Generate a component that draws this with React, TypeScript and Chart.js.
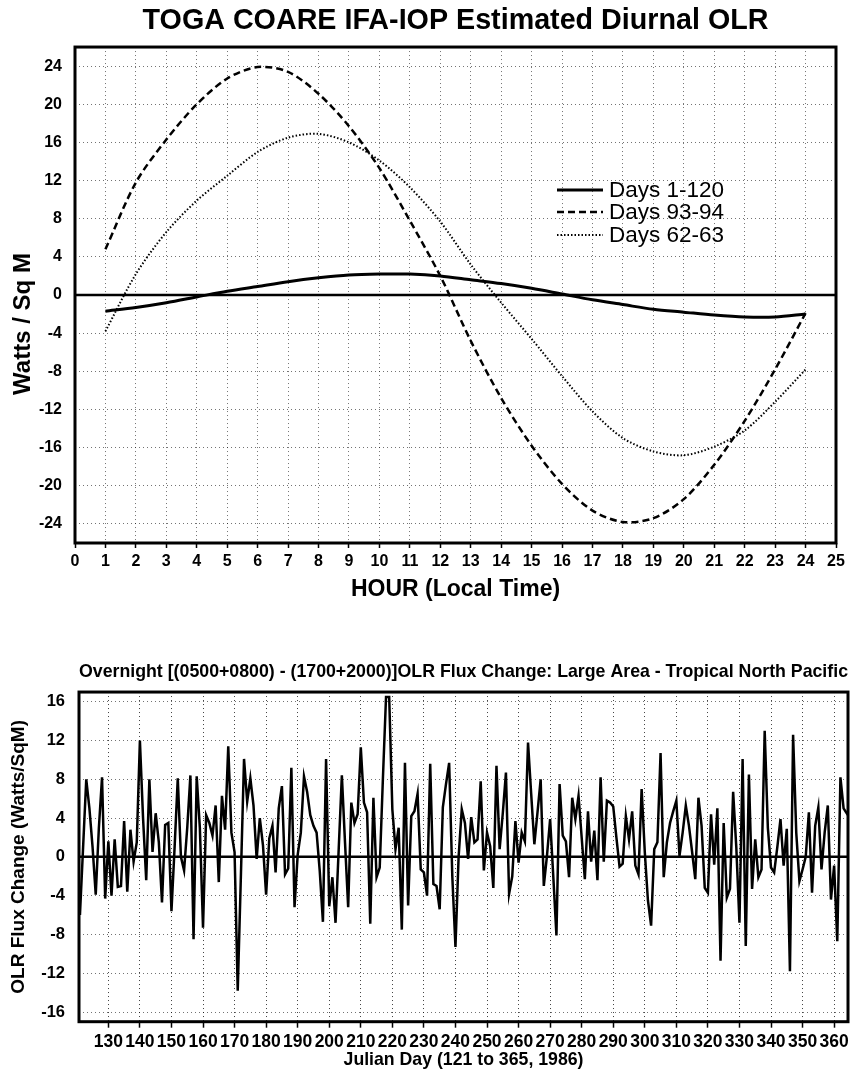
import React, { useEffect, useRef } from "react";
import { Chart, registerables } from "chart.js";

Chart.register(...registerables);

const FONT = "'Liberation Sans', Arial, Helvetica, sans-serif";

// ---------- Top chart: estimated diurnal OLR ----------
const hours = [1, 2, 3, 4, 5, 6, 7, 8, 9, 10, 11, 12, 13, 14, 15, 16, 17, 18, 19, 20, 21, 22, 23, 24];
const hourTicks = [0, 1, 2, 3, 4, 5, 6, 7, 8, 9, 10, 11, 12, 13, 14, 15, 16, 17, 18, 19, 20, 21, 22, 23, 24, 25];
const wattsTicks = [-24, -20, -16, -12, -8, -4, 0, 4, 8, 12, 16, 20, 24];
const days1to120 = [-1.7, -1.3, -0.8, -0.2, 0.4, 0.9, 1.4, 1.8, 2.1, 2.2, 2.2, 2.0, 1.6, 1.2, 0.7, 0.1, -0.5, -1.0, -1.5, -1.8, -2.1, -2.3, -2.3, -2.0];
const days93to94 = [4.8, 11.8, 16.3, 20.0, 22.7, 23.9, 23.4, 21.1, 17.7, 13.3, 7.8, 2.0, -4.8, -10.8, -15.8, -19.8, -22.6, -23.8, -23.4, -21.4, -17.8, -13.2, -7.8, -1.9];
const days62to63 = [-3.8, 2.2, 6.6, 9.9, 12.5, 15.0, 16.5, 16.9, 16.0, 14.1, 11.3, 7.7, 3.2, -0.8, -4.6, -8.5, -12.2, -15.0, -16.4, -16.8, -15.9, -14.2, -11.2, -7.8];
const seriesLabels = ["Days 1-120", "Days 93-94", "Days 62-63"];
const topYTitle = "Watts / Sq M";

// ---------- Bottom chart: overnight OLR flux change, day 121..365 (1986) ----------
const firstJulianDay = 121;
const olrMay = [-6, 1, 8, 5, 1, -3.9, 3, 8.2, -4.3, 1.6, -4.0, 1.8, -3.1, -3.0, 3.7, -3.6, 2.8, -0.5, 1.5, 12.0, 4.0, -2.4, 8.0, 0.5, 4.5, 1.5, -4.7, 3.3, 3.5, -5.6, 1.0];
const olrJun = [8.1, 0, -1.4, 3.0, 8.4, -8.5, 8.3, 3.0, -7.3, 4.3, 3.5, 2.2, 5.3, -2.6, 6.3, 2.8, 11.4, 2.5, 0.5, -13.8, -2, 10.1, 5.7, 8.1, 5.3, -0.2, 4.0, 1.2, -3.9, 1.9];
const olrJul = [3.2, -1.6, 5.0, 7.3, -1.8, -1.2, 9.2, -5.2, 0.2, 2.5, 8.3, 6.7, 4.3, 3.2, 2.5, -1.5, -6.7, 10.1, -5.1, -2.1, -6.8, 0.8, 8.4, 1.5, -5.2, 5.6, 3.5, 4.4, 11.3, 5.6, 4.6];
const olrAug = [-6.9, 6.1, -2.1, -1.1, 8, 16.5, 16.5, 4.9, 0.8, 3.0, -7.5, 9.7, -5.0, 4.2, 4.7, 6.5, -1.3, -1.6, -4.0, 9.6, -2.8, -3.0, -5.4, 5.1, 7.5, 9.7, -2, -9.3, 0, 4.9, 3.5];
const olrSep = [-0.2, 4.1, 1.5, 1.8, 7.8, -1.4, 2.5, 1.1, -3.2, 9.4, 0.8, 4.5, 8.7, -3.8, -2, 3.7, -0.6, 2.5, 1.6, 11.8, 6.5, 1.3, 4.6, 8, -3, 0.1, 3.9, -2, -8.1, 7.5];
const olrOct = [2.2, 1.6, -2.1, 6.1, 3.9, 6.3, 2, -2.3, 4.7, -0.5, 2.7, -2.4, 8.2, -0.5, 5.8, 5.6, 5.2, 2, -1, -0.7, 4.2, 1.8, 4.7, -0.9, -1.8, 7, 0.5, -4.5, -7.1, 0.8, 1.5];
const olrNov = [10.7, -2.1, 1.5, 3.5, 4.7, 5.8, 0.1, 2.5, 5.3, 3.2, 0.5, -2.3, 6.1, 3.2, -3.2, -3.7, 4.4, -0.8, 5, -10.7, 3.5, -4.2, -3.3, 6.7, 1, -6.8, 10.1, -9.2, 8.5, -3.3];
const olrDec = [1.8, -2.1, -1.3, 13, 3, -1.1, -1.6, 1, 3.9, -0.9, 2.9, -11.8, 12.6, 2.5, -2.5, -1.3, 0, 4.6, -3.7, 3.2, 5.1, -1.3, 2.5, 5.3, -4.4, -0.9, -8.7, 8.2, 5, 4.5, 4];
const julianTicks = [130, 140, 150, 160, 170, 180, 190, 200, 210, 220, 230, 240, 250, 260, 270, 280, 290, 300, 310, 320, 330, 340, 350, 360];
const fluxTicks = [-16, -12, -8, -4, 0, 4, 8, 12, 16];

Chart.defaults.font.family = FONT;
Chart.defaults.color = "#000";

const frameAndZero = {
  id: "frameAndZero",
  beforeDatasetsDraw(chart: any) {
    const { ctx, chartArea: a, scales } = chart;
    const y0 = scales.y.getPixelForValue(0);
    ctx.save();
    ctx.strokeStyle = "#000";
    ctx.lineWidth = 2.5;
    ctx.setLineDash([]);
    ctx.beginPath();
    ctx.moveTo(a.left, y0);
    ctx.lineTo(a.right, y0);
    ctx.stroke();
    ctx.restore();
  },
  afterDraw(chart: any) {
    const { ctx, chartArea: a } = chart;
    ctx.save();
    ctx.strokeStyle = "#000";
    ctx.lineWidth = 3;
    ctx.setLineDash([]);
    ctx.strokeRect(a.left, a.top, a.right - a.left, a.bottom - a.top);
    ctx.restore();
  },
};

const insideLegend = {
  id: "insideLegend",
  afterDatasetsDraw(chart: any) {
    const { ctx } = chart;
    const x0 = 557, x1 = 603, tx = 609;
    const ys = [190, 212, 235];
    chart.data.datasets.forEach((ds: any, i: number) => {
      ctx.save();
      ctx.strokeStyle = "#000";
      ctx.lineWidth = ds.borderWidth;
      ctx.setLineDash(ds.borderDash || []);
      ctx.beginPath();
      ctx.moveTo(x0, ys[i]);
      ctx.lineTo(x1, ys[i]);
      ctx.stroke();
      ctx.setLineDash([]);
      ctx.fillStyle = "#000";
      ctx.font = `22.5px ${FONT}`;
      ctx.textBaseline = "middle";
      ctx.textAlign = "left";
      ctx.fillText(ds.label, tx, ys[i] + 1);
      ctx.restore();
    });
  },
};

// y-axis title of the top chart, placed lower on the axis as in the original
const sideTitle = {
  id: "sideTitle",
  afterDraw(chart: any) {
    const { ctx } = chart;
    ctx.save();
    ctx.translate(23, 324);
    ctx.rotate(-Math.PI / 2);
    ctx.font = `bold 24px ${FONT}`;
    ctx.fillStyle = "#000";
    ctx.textAlign = "center";
    ctx.textBaseline = "middle";
    ctx.fillText(topYTitle, 0, 0);
    ctx.restore();
  },
};

const gridDots = { color: "rgba(0,0,0,0.55)", lineWidth: 1 };

function topConfig(): any {
  const toPts = (vals: number[]) => hours.map((h, i) => ({ x: h, y: vals[i] }));
  return {
    type: "line",
    data: {
      datasets: [
        { label: seriesLabels[0], data: toPts(days1to120), borderColor: "#000", borderWidth: 3, borderDash: [], pointRadius: 0, tension: 0.3, fill: false },
        { label: seriesLabels[1], data: toPts(days93to94), borderColor: "#000", borderWidth: 2.5, borderDash: [7, 4], pointRadius: 0, tension: 0.3, fill: false },
        { label: seriesLabels[2], data: toPts(days62to63), borderColor: "#000", borderWidth: 2, borderDash: [1.5, 2], pointRadius: 0, tension: 0.3, fill: false },
      ],
    },
    options: {
      responsive: false,
      animation: false,
      devicePixelRatio: 1,
      layout: { padding: { left: 0, right: 15, top: 0, bottom: 0 } },
      plugins: {
        legend: { display: false },
        tooltip: { enabled: false },
        title: {
          display: true,
          text: "TOGA COARE IFA-IOP Estimated Diurnal OLR",
          fullSize: false,
          color: "#000",
          font: { size: 28.7, weight: "bold" },
          padding: { top: 3.8, bottom: 8.8 },
        },
      },
      scales: {
        x: {
          type: "linear",
          min: 0,
          max: 25,
          afterBuildTicks: (s: any) => { s.ticks = hourTicks.map((v) => ({ value: v })); },
          afterFit: (s: any) => { s.height = 62; s.paddingLeft = 0; s.paddingRight = 0; },
          ticks: { autoSkip: false, maxRotation: 0, minRotation: 0, padding: 4, color: "#000", font: { size: 16, weight: "bold" } },
          grid: { ...gridDots, drawTicks: true, tickLength: 5, tickColor: "#000", tickWidth: 1.5 },
          border: { display: false, dash: [1, 3] },
          title: { display: true, text: "HOUR (Local Time)", color: "#000", font: { size: 23, weight: "bold" }, padding: { top: 0, bottom: 1.2 } },
        },
        y: {
          type: "linear",
          min: -26,
          max: 26,
          afterBuildTicks: (s: any) => { s.ticks = wattsTicks.map((v) => ({ value: v })); },
          afterFit: (s: any) => { s.width = 75; s.paddingTop = 0; s.paddingBottom = 0; },
          ticks: { padding: 8, color: "#000", font: { size: 16, weight: "bold" } },
          grid: { ...gridDots, drawTicks: true, tickLength: 5, tickColor: "rgba(0,0,0,0)" },
          border: { display: false, dash: [1, 3] },
          title: { display: false },
        },
      },
    },
    plugins: [frameAndZero, insideLegend, sideTitle],
  };
}

function bottomConfig(): any {
  const allDays = [...olrMay, ...olrJun, ...olrJul, ...olrAug, ...olrSep, ...olrOct, ...olrNov, ...olrDec];
  const pts = allDays.map((v, i) => ({ x: firstJulianDay + i, y: v }));
  return {
    type: "line",
    data: {
      datasets: [
        { label: "OLR Flux Change", data: pts, borderColor: "#000", borderWidth: 2.5, pointRadius: 0, tension: 0, fill: false },
      ],
    },
    options: {
      responsive: false,
      animation: false,
      devicePixelRatio: 1,
      layout: { padding: { left: 0, right: 3, top: 0, bottom: 0 } },
      plugins: {
        legend: { display: false },
        tooltip: { enabled: false },
        title: {
          display: true,
          text: "Overnight [(0500+0800) - (1700+2000)]OLR Flux Change: Large Area - Tropical North Pacific",
          fullSize: false,
          color: "#000",
          font: { size: 18.2, weight: "bold" },
          padding: { top: 41, bottom: 9.2 },
        },
      },
      scales: {
        x: {
          type: "linear",
          min: 120.7,
          max: 364.4,
          afterBuildTicks: (s: any) => { s.ticks = julianTicks.map((v) => ({ value: v })); },
          afterFit: (s: any) => { s.height = 52.3; s.paddingLeft = 0; s.paddingRight = 0; },
          ticks: { autoSkip: false, maxRotation: 0, minRotation: 0, padding: 4, color: "#000", font: { size: 17.5, weight: "bold" } },
          grid: { color: "rgba(0,0,0,0.75)", lineWidth: 1, drawTicks: true, tickLength: 6, tickColor: "#000", tickWidth: 1.5 },
          border: { display: false, dash: [1, 3] },
          title: { display: true, text: "Julian Day (121 to 365, 1986)", color: "#000", font: { size: 17.7, weight: "bold" }, padding: { top: 0, bottom: 3.4 } },
        },
        y: {
          type: "linear",
          min: -17,
          max: 17,
          afterBuildTicks: (s: any) => { s.ticks = fluxTicks.map((v) => ({ value: v })); },
          afterFit: (s: any) => { s.width = 79; s.paddingTop = 0; s.paddingBottom = 0; },
          ticks: { padding: 9, color: "#000", font: { size: 16.5, weight: "bold" } },
          grid: { color: "rgba(0,0,0,0.55)", lineWidth: 1, drawTicks: true, tickLength: 5, tickColor: "rgba(0,0,0,0)" },
          border: { display: false, dash: [1, 3] },
          title: { display: true, text: "OLR Flux Change (Watts/SqM)", color: "#000", font: { size: 19, weight: "bold" }, padding: { top: 7.5, bottom: 0 } },
        },
      },
    },
    plugins: [frameAndZero],
  };
}

export default function App() {
  const topRef = useRef<HTMLCanvasElement>(null);
  const bottomRef = useRef<HTMLCanvasElement>(null);

  useEffect(() => {
    const c1 = new Chart(topRef.current as HTMLCanvasElement, topConfig());
    const c2 = new Chart(bottomRef.current as HTMLCanvasElement, bottomConfig());
    return () => {
      c1.destroy();
      c2.destroy();
    };
  }, []);

  return (
    <div style={{ position: "absolute", left: 0, top: 0, width: 851, height: 1074, background: "#fff" }}>
      <canvas ref={topRef} width={851} height={605} style={{ position: "absolute", left: 0, top: 0, width: 851, height: 605 }} />
      <canvas ref={bottomRef} width={851} height={454} style={{ position: "absolute", left: 0, top: 620, width: 851, height: 454 }} />
    </div>
  );
}
